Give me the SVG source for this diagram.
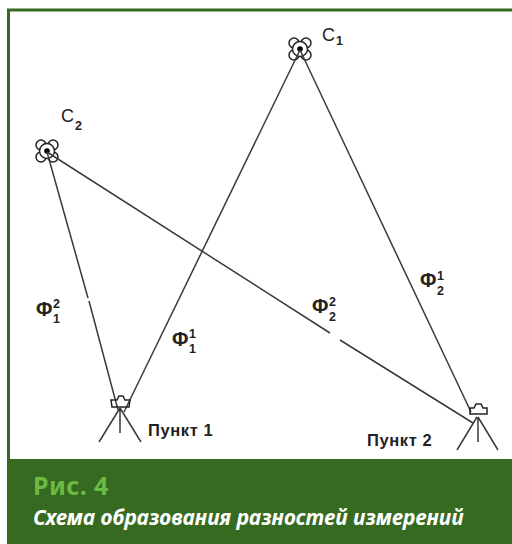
<svg xmlns="http://www.w3.org/2000/svg" width="512" height="544" viewBox="0 0 512 544">
<style>
.l{fill:none;stroke:#3a3a3a;stroke-width:1.5}
.s{fill:none;stroke:#222;stroke-width:1.5}
.t{font-family:"Liberation Sans",Arial,sans-serif;fill:#222}
.p{font-weight:bold;font-size:16.500px;letter-spacing:.6px}
.f{font-weight:bold;font-size:20px}
.n{font-weight:bold;font-size:12.500px}
.c{font-size:18px}
</style>
<defs>
<g id="sat">
<g class="s"><circle cx="-6" cy="-6" r="5"/><circle cx="6" cy="-6" r="5"/><circle cx="-6" cy="6" r="5"/><circle cx="6" cy="6" r="5"/><circle r="7.500" fill="#fff"/></g>
<circle r="2.800" fill="#000"/>
</g>
</defs>
<rect width="512" height="544" fill="#fff"/>
<path d="M8.500 460V10H512" fill="none" stroke="#376a21" stroke-width="3"/>
<rect x="7" y="459" width="505" height="85" fill="#376a21"/>
<g id="c1"><use href="#sat" x="300" y="49"/>
<text class="t c" x="322" y="41">C</text><text class="t n" x="336" y="45">1</text></g>
<g id="c2"><use href="#sat" x="47" y="151"/>
<text class="t c" x="61" y="122">C</text><text class="t n" x="75" y="130">2</text></g>
<g id="connectors">
<path class="l" d="M47 152L88 298M89 301L118 410"/>
<path class="l" d="M300 50L124 412"/>
<path class="l" d="M300 50L471 412"/>
<path class="l" d="M47 152L330 333M340 340L473 423"/>
</g>
<g id="p1"><path class="s" d="M111 400h6l2-4h4l2 4h5l-1 7h-17z"/>
<path class="l" d="M120 408L99 442M120 408V433M120 408L141 442"/>
<text class="t p" x="148" y="436">Пункт 1</text></g>
<g id="p2"><path class="s" d="M470 408h4l2-4h5l2 4h4v6h-17z"/>
<path class="l" d="M477 417L457 450M478 417V442M478 417L498 450"/>
<text class="t p" x="367" y="446">Пункт 2</text></g>
<g id="labels">
<text class="t f" x="36" y="316">Φ</text><text class="t n" x="53" y="308">2</text><text class="t n" x="53" y="323">1</text>
<text class="t f" x="172" y="346">Φ</text><text class="t n" x="189" y="338">1</text><text class="t n" x="189" y="353">1</text>
<text class="t f" x="312" y="313">Φ</text><text class="t n" x="329" y="306">2</text><text class="t n" x="329" y="321">2</text>
<text class="t f" x="420" y="287">Φ</text><text class="t n" x="437" y="280">1</text><text class="t n" x="437" y="295">2</text>
</g>
<g id="caption">
<text x="33" y="495" font-family="'Noto Sans',sans-serif" font-weight="bold" font-size="25" fill="#6cbb45" letter-spacing=".4">Рис. 4</text>
<text x="33" y="525" font-family="'Noto Sans',sans-serif" font-weight="bold" font-style="italic" font-size="20.900" fill="#fff">Схема образования разностей измерений</text>
</g>
</svg>
